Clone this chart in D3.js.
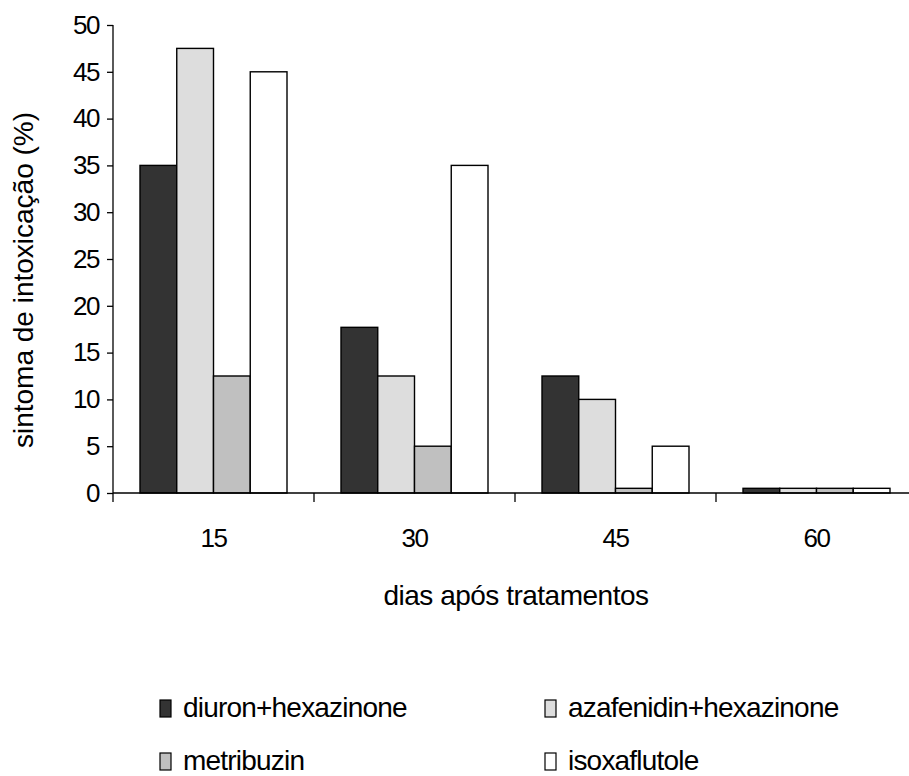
<!DOCTYPE html>
<html>
<head>
<meta charset="utf-8">
<script src="https://cdn.jsdelivr.net/npm/d3@7"></script>
<style>
  html, body { margin: 0; padding: 0; background: #fff; }
  svg { display: block; font-family: "Liberation Sans", Arial, sans-serif; }
</style>
</head>
<body>
<svg id="chart" width="909" height="776"></svg>
<script>
// ---- data ----
const categories = ["15", "30", "45", "60"];
const seriesNames = ["diuron+hexazinone", "azafenidin+hexazinone", "metribuzin", "isoxaflutole"];
const diuronHexazinone = [35, 17.7, 12.5, 0.5];
const azafenidinHexazinone = [47.5, 12.5, 10, 0.5];
const metribuzin = [12.5, 5, 0.5, 0.5];
const isoxaflutole = [45, 35, 5, 0.5];
const yTicks = [0, 5, 10, 15, 20, 25, 30, 35, 40, 45, 50];
const xTitle = "dias após tratamentos";
const yTitle = "sintoma de intoxicação (%)";

(function () {
const seriesValues = [diuronHexazinone, azafenidinHexazinone, metribuzin, isoxaflutole];
const colors = ["#333333", "#dddddd", "#c0c0c0", "#ffffff"];

const svg = d3.select("#chart");
const mLeft = 113, mRight = 917, mTop = 25, mBottom = 493;
const fontSize = 26;

const x = d3.scaleBand().domain(categories).range([mLeft, mRight]).paddingInner(0).paddingOuter(0);
const groupPad = 27;
const xs = d3.scaleBand().domain(seriesNames).range([groupPad, x.bandwidth() - groupPad]).padding(0);
const y = d3.scaleLinear().domain([0, 50]).range([mBottom, mTop]);

// bars
const g = svg.append("g");
categories.forEach((c, ci) => {
  seriesNames.forEach((s, si) => {
    const v = seriesValues[si][ci];
    g.append("rect")
      .attr("x", x(c) + xs(s))
      .attr("y", y(v))
      .attr("width", xs.bandwidth())
      .attr("height", y(0) - y(v))
      .attr("fill", colors[si])
      .attr("stroke", "#000")
      .attr("stroke-width", 1.4);
  });
});

// y axis
const yAxis = d3.axisLeft(y).tickValues(yTicks).tickSize(6).tickPadding(8).tickFormat(d3.format("d"));
const yg = svg.append("g").attr("transform", `translate(${mLeft},0)`).call(yAxis);
yg.select(".domain").attr("d", `M0,${mTop}V${mBottom + 9}`).attr("stroke", "#000").attr("stroke-width", 1.3);
yg.selectAll(".tick line").attr("stroke", "#000").attr("stroke-width", 1.3);
yg.selectAll(".tick text").attr("font-size", fontSize).attr("font-family", "Liberation Sans, Arial, sans-serif")
  .attr("fill", "#000").attr("letter-spacing", "-1.5px");

// x axis
const xg = svg.append("g").attr("transform", `translate(0,${mBottom})`);
xg.append("path").attr("d", `M${mLeft},0H${mRight}`).attr("stroke", "#000").attr("stroke-width", 1.3).attr("fill", "none");
const boundaries = categories.map(c => x(c)).concat([x(categories[categories.length - 1]) + x.bandwidth()]);
xg.selectAll("line.bt").data(boundaries.slice(1)).join("line")
  .attr("x1", d => d).attr("x2", d => d).attr("y1", 0).attr("y2", 9)
  .attr("stroke", "#000").attr("stroke-width", 1.3);
xg.selectAll("text.cat").data(categories).join("text")
  .attr("x", d => x(d) + x.bandwidth() / 2)
  .attr("y", 54)
  .attr("text-anchor", "middle")
  .attr("font-size", fontSize)
  .attr("letter-spacing", "-1.5px")
  .text(d => d);

// axis titles
svg.append("text")
  .attr("x", 516).attr("y", 605)
  .attr("text-anchor", "middle")
  .attr("font-size", 28)
  .attr("letter-spacing", "-0.5px")
  .text(xTitle);

svg.append("text")
  .attr("transform", "translate(33,280) rotate(-90)")
  .attr("text-anchor", "middle")
  .attr("font-size", 28)
  .text(yTitle);

// legend
const legendPos = [[160, 700], [545, 700], [160, 753], [545, 753]];
seriesNames.forEach((s, i) => {
  const [lx, ly] = legendPos[i];
  svg.append("rect").attr("x", lx).attr("y", ly).attr("width", 11).attr("height", 17)
    .attr("fill", colors[i]).attr("stroke", "#000").attr("stroke-width", 1.2);
  svg.append("text").attr("x", lx + 23).attr("y", ly + 17)
    .attr("font-size", 28).attr("letter-spacing", "-0.8px")
    .text(s);
});
})();
</script>
</body>
</html>
